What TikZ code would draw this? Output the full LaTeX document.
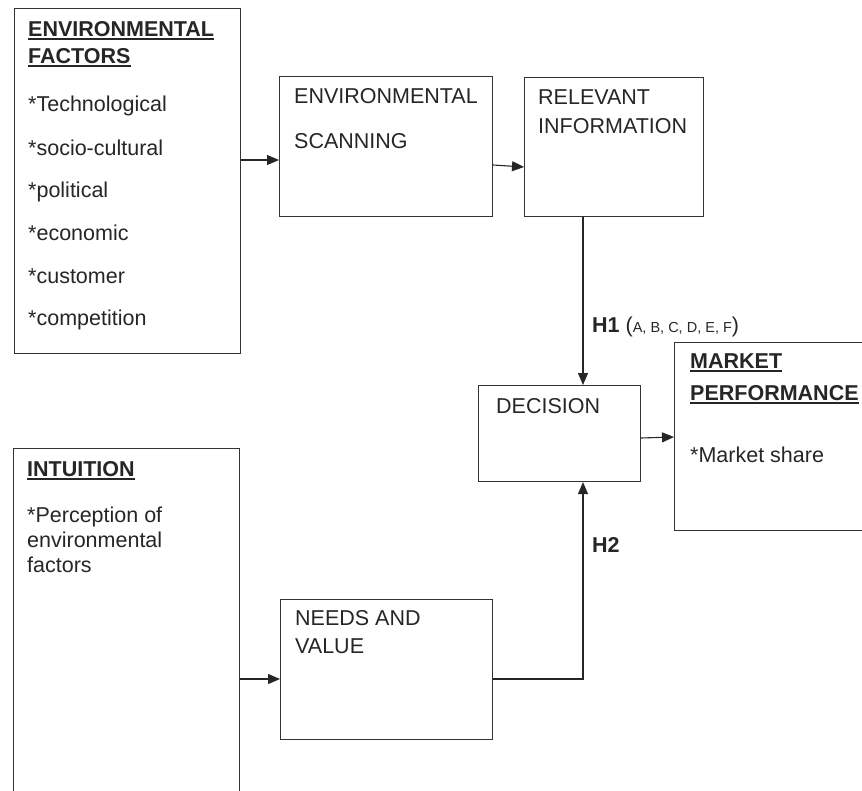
\documentclass[tikz,border=0pt]{standalone}
\usepackage{fontspec}
\setmainfont{Liberation Sans}
\usetikzlibrary{arrows.meta}
\newcommand\hul[1]{\setbox0\hbox{#1}\rlap{\copy0}\rule[-3.6pt]{\wd0}{1.8pt}}
\tikzset{
  box/.style={draw=black!80, line width=1.1pt, fill=none, anchor=north west, inner sep=0pt},
  txt/.style={anchor=base west, inner sep=0pt, text=black!85, font=\fontsize{21.5}{25}\selectfont},
  hd/.style={txt, font=\fontsize{21.5}{25}\selectfont\bfseries},
  arr/.style={draw=black!85, line width=1.1pt, -{Triangle[length=12pt,width=10pt]}},
  ln/.style={draw=black!85, line width=1.1pt}
}
\begin{document}
\begin{tikzpicture}[x=1pt,y=-1pt]
\useasboundingbox (0,0) rectangle (862,790);
\clip (0,0) rectangle (862,790);
\fill[white] (0,0) rectangle (862,790);
% boxes
\node[box, minimum width=226, minimum height=345] (ef) at (14,8) {};
\node[box, minimum width=213, minimum height=140] (es) at (279,76) {};
\node[box, minimum width=179, minimum height=139] (ri) at (524,77) {};
\node[box, minimum width=162, minimum height=96] (dec) at (478,385) {};
\node[box, minimum width=210, minimum height=188] (mp) at (674,342) {};
\node[box, minimum width=226, minimum height=360] (iu) at (13,448) {};
\node[box, minimum width=212, minimum height=140] (nv) at (280,599) {};
% texts
\node[hd] (ef1) at (28,36) {\hul{ENVIRONMENTAL}};
\node[hd] (ef2) at (28,63) {\hul{FACTORS}};
\node[txt] (ef3) at (28,111) {*Technological};
\node[txt] (ef4) at (28,155) {*socio-cultural};
\node[txt] (ef5) at (28,197) {*political};
\node[txt] (ef6) at (28,240) {*economic};
\node[txt] (ef7) at (28,283) {*customer};
\node[txt] (ef8) at (28,325) {*competition};
\node[txt] (es1) at (294,103) {ENVIRONMENTAL};
\node[txt] (es2) at (294,148) {SCANNING};
\node[txt] (ri1) at (538,104) {RELEVANT};
\node[txt] (ri2) at (538,133) {INFORMATION};
\node[txt] (dc1) at (496,413) {DECISION};
\node[hd] (mp1) at (690,368) {\hul{MARKET}};
\node[hd] (mp2) at (690,400) {\hul{PERFORMANCE}};
\node[txt] (mp3) at (690,462) {*Market share};
\node[hd] (iu1) at (27,476) {\hul{INTUITION}};
\node[txt] (iu2) at (27,522) {*Perception of};
\node[txt] (iu3) at (27,547) {environmental};
\node[txt] (iu4) at (27,572) {factors};
\node[txt] (nv1) at (295,625) {NEEDS AND};
\node[txt] (nv2) at (295,653) {VALUE};
\node[txt] (h1) at (592,332) {\textbf{H1} (\fontsize{14.5}{16}\selectfont A, B, C, D, E, F\fontsize{21.5}{25}\selectfont)};
\node[hd] (h2) at (592,552) {H2};
% connectors
\draw[arr] (ef.east |- 0,160) -- (es.west |- 0,160);
\draw[arr] (es.east |- 0,165) -- (ri.west |- 0,167);
\draw[arr] (ri.south -| 583,0) -- (dec.north -| 583,0);
\draw[arr] (dec.east |- 0,438) -- (mp.west |- 0,437);
\draw[arr] (iu.east |- 0,679) -- (nv.west |- 0,679);
\draw[arr] (nv.east |- 0,679) -| (dec.south -| 583,0);
\end{tikzpicture}
\end{document}
